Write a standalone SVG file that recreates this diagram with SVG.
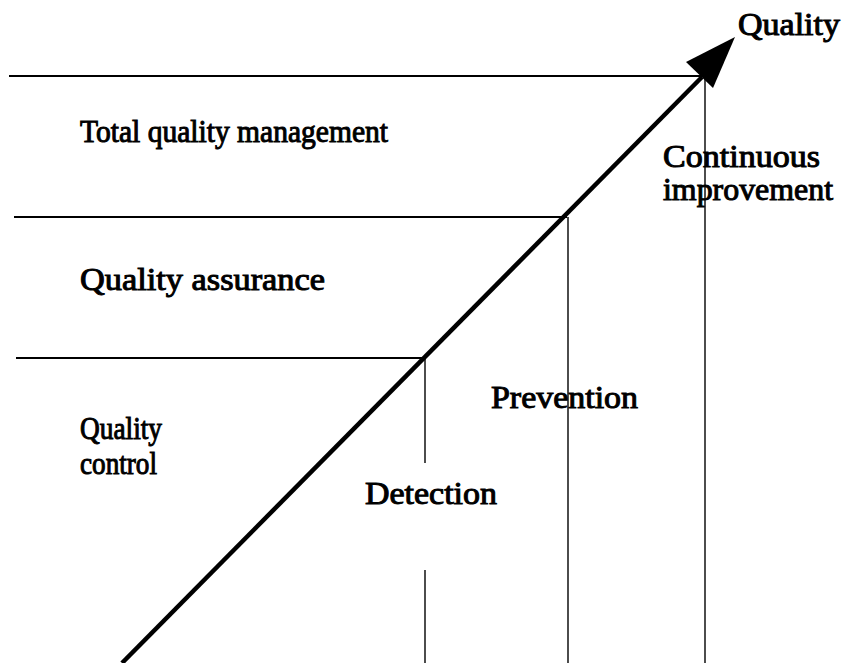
<svg xmlns="http://www.w3.org/2000/svg" width="850" height="663" viewBox="0 0 850 663">
  <style>
    .lbl { font-family: "Liberation Serif", "Times New Roman", serif; font-size: 31px; fill: #000; stroke: #000; stroke-width: 1; }
    .rule { stroke: #000; stroke-width: 1.8; fill: none; }
    .tick { stroke: #000; stroke-width: 1.4; fill: none; }
    .axis { stroke: #000; stroke-width: 4.5; fill: none; stroke-linecap: butt; }
  </style>
  <rect width="850" height="663" fill="#fff"/>

  <!-- level boundaries and dividers -->
  <g id="connectors">
    <line class="rule" x1="9" y1="76" x2="706" y2="76"/>
    <line class="rule" x1="14" y1="217" x2="567" y2="217"/>
    <line class="rule" x1="16" y1="358" x2="425" y2="358"/>
    <line class="tick" x1="425" y1="358" x2="425" y2="463"/>
    <line class="tick" x1="425" y1="570" x2="425" y2="663"/>
    <line class="tick" x1="568" y1="217" x2="568" y2="663"/>
    <line class="tick" x1="705" y1="76" x2="705" y2="663"/>
    <!-- rising quality axis -->
    <line class="axis" x1="122" y1="663" x2="702" y2="77"/>
    <polygon points="735,37 686,62 713,88" fill="#000"/>
  </g>

  <g id="quality"><text class="lbl" x="738" y="35" font-size="32" textLength="102" lengthAdjust="spacingAndGlyphs">Quality</text></g>
  <g id="tqm"><text class="lbl" x="80" y="142" font-size="30" textLength="308" lengthAdjust="spacingAndGlyphs">Total quality management</text></g>
  <g id="continuous-improvement">
    <text class="lbl" x="663" y="167" textLength="157" lengthAdjust="spacingAndGlyphs">Continuous</text>
    <text class="lbl" x="663" y="200" textLength="170" lengthAdjust="spacingAndGlyphs">improvement</text>
  </g>
  <g id="qa"><text class="lbl" x="80" y="290" textLength="245" lengthAdjust="spacingAndGlyphs">Quality assurance</text></g>
  <g id="prevention"><text class="lbl" x="491" y="408" font-size="32" textLength="147" lengthAdjust="spacingAndGlyphs">Prevention</text></g>
  <g id="qc">
    <text class="lbl" x="80" y="439" textLength="82" lengthAdjust="spacingAndGlyphs">Quality</text>
    <text class="lbl" x="80" y="474" textLength="77" lengthAdjust="spacingAndGlyphs">control</text>
  </g>
  <g id="detection"><text class="lbl" x="365" y="504" font-size="32" textLength="132" lengthAdjust="spacingAndGlyphs">Detection</text></g>
</svg>
